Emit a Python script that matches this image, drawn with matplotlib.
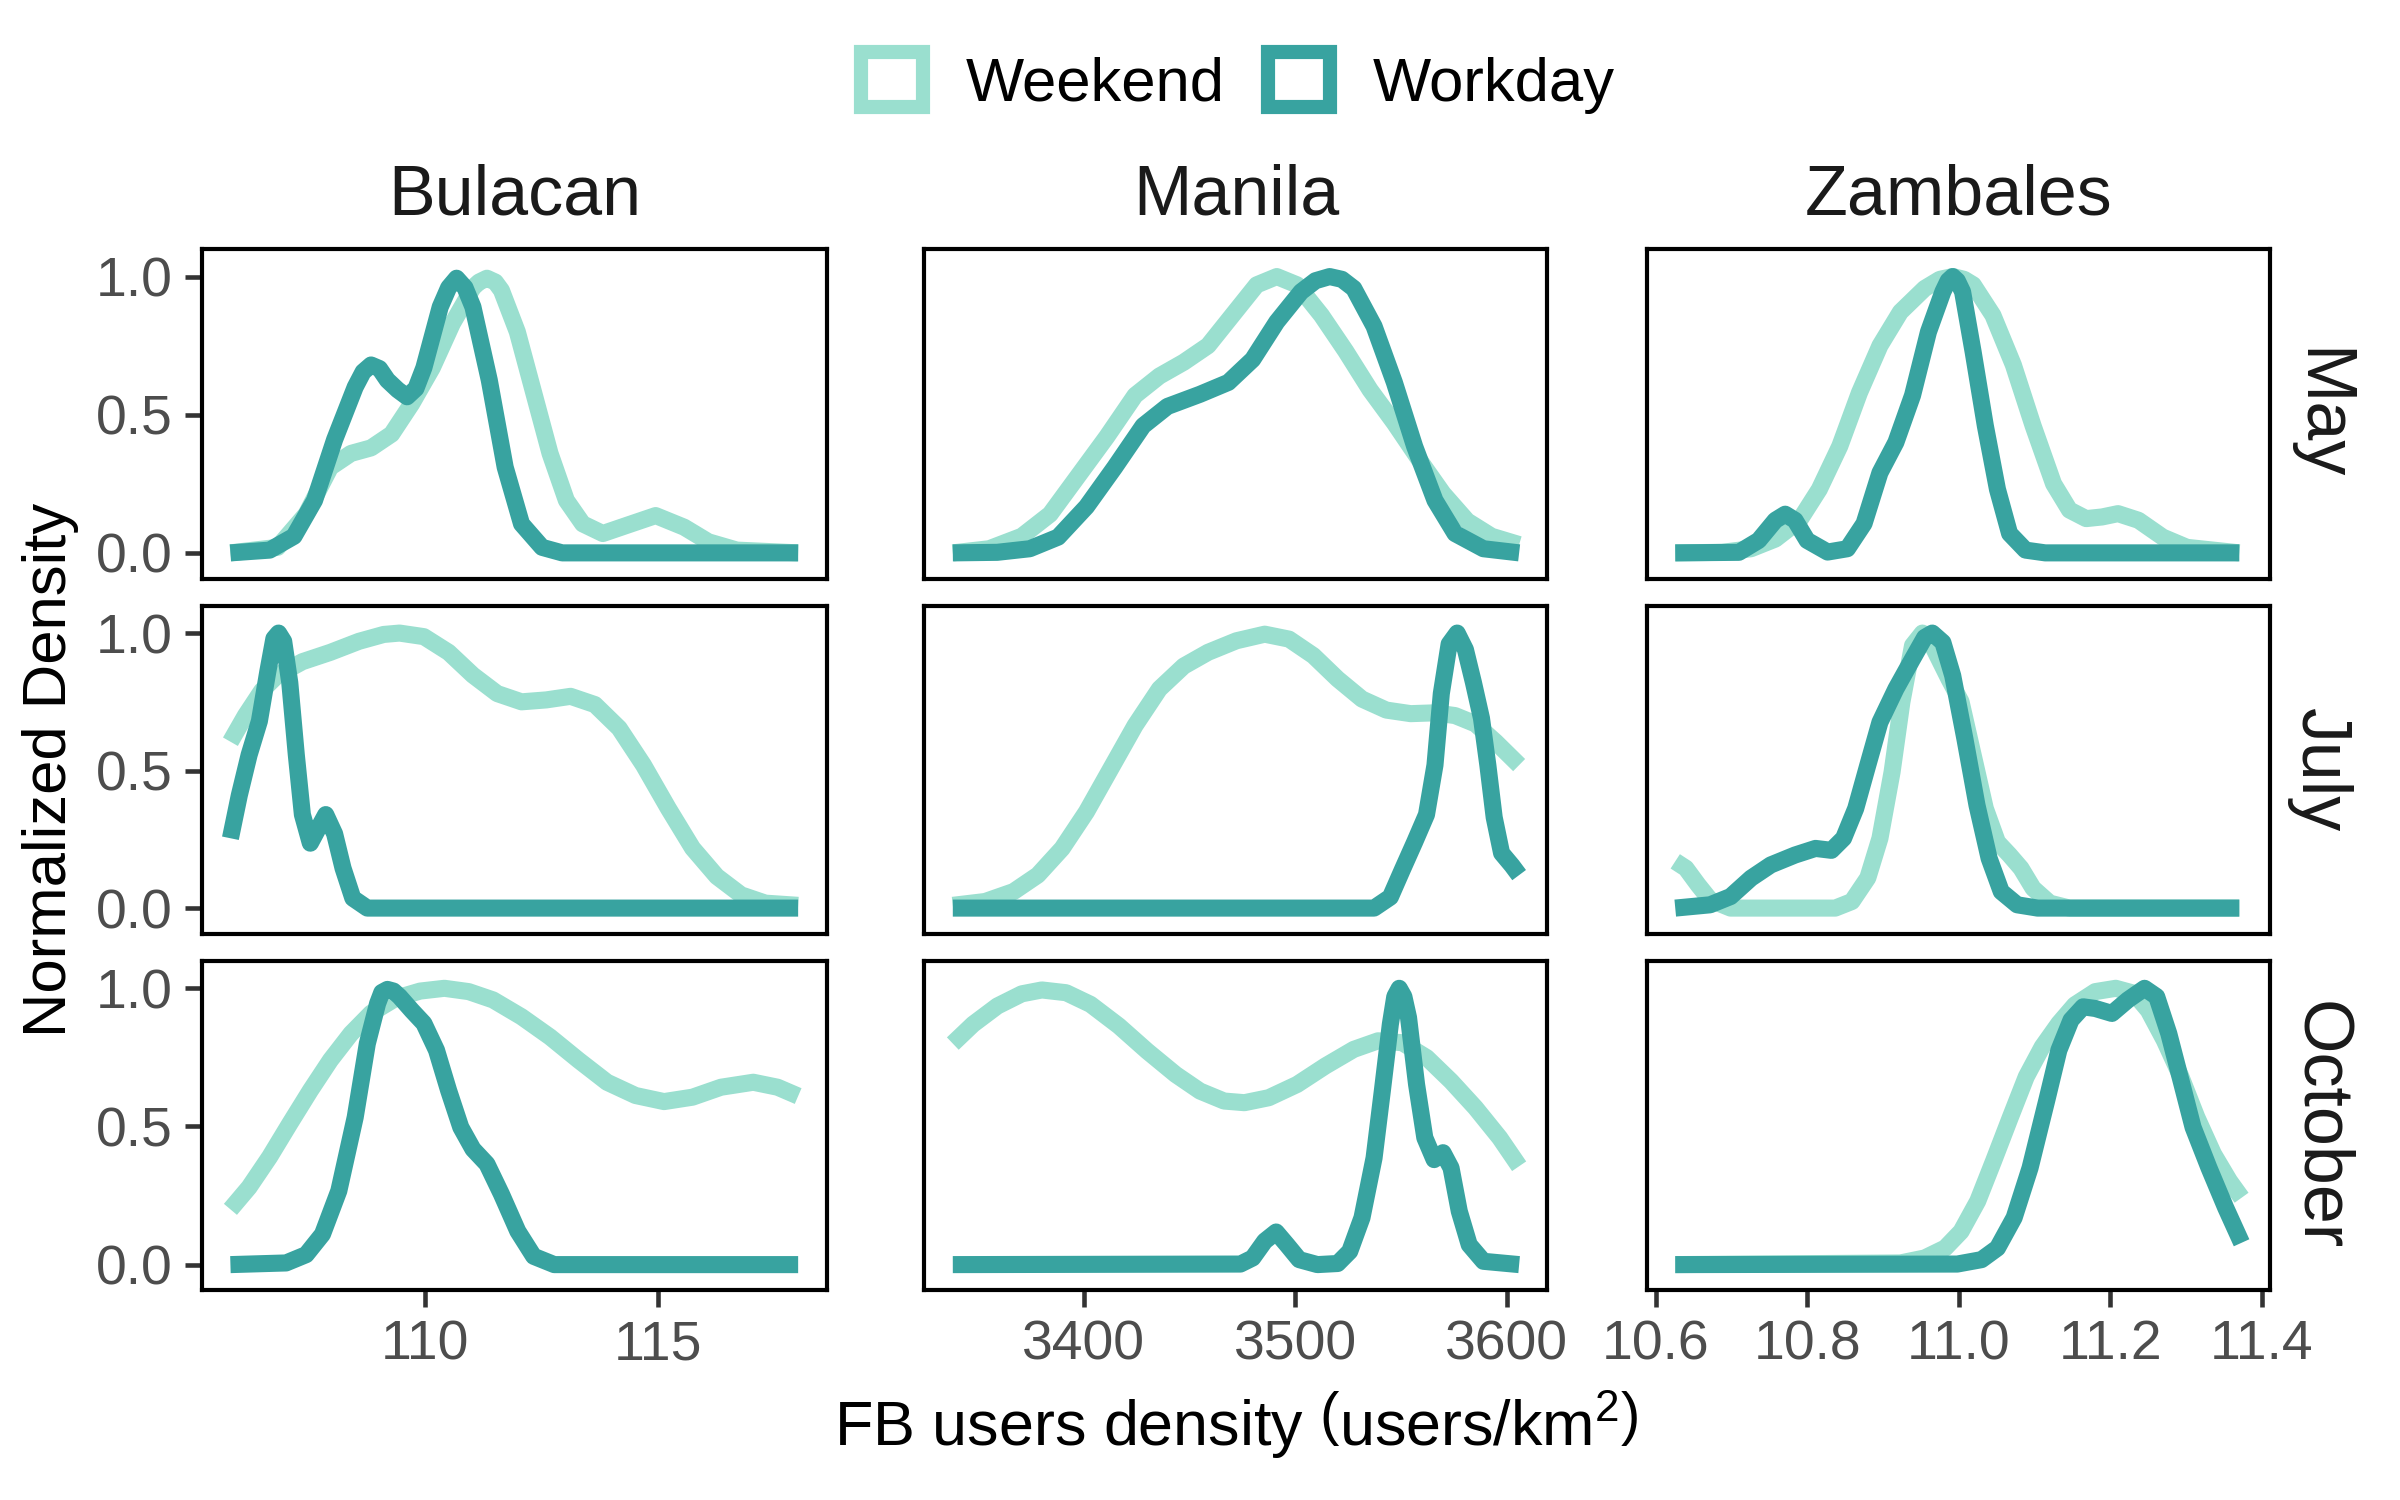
import matplotlib
matplotlib.use("Agg")
import matplotlib.pyplot as plt
from matplotlib.patches import Patch
import numpy as np

plt.rcParams['font.family'] = ['Liberation Sans', 'DejaVu Sans']
plt.rcParams['mathtext.fontset'] = 'custom'
plt.rcParams['mathtext.rm'] = 'Liberation Sans'
plt.rcParams['mathtext.it'] = 'Liberation Sans:italic'
plt.rcParams['mathtext.bf'] = 'Liberation Sans:bold'

# ---------------- data ----------------
regions = ["Bulacan", "Manila", "Zambales"]
months = ["May", "July", "October"]
series_names = ["Weekend", "Workday"]

bul_tick_values = [110, 115]
man_tick_values = [3400, 3500, 3600]
zam_tick_values = [10.6, 10.8, 11.0, 11.2, 11.4]
bul_tick_labels = ["110", "115"]
man_tick_labels = ["3400", "3500", "3600"]
zam_tick_labels = ["10.6", "10.8", "11.0", "11.2", "11.4"]
y_tick_values = [0.0, 0.5, 1.0]
y_tick_labels = ["0.0", "0.5", "1.0"]

# Bulacan - May
bul_may_we_x = [105.84, 106.85, 107.46, 107.98, 108.42, 108.85, 109.29, 109.72, 110.16, 110.59, 111.03, 111.16, 111.33, 111.51,
                111.64, 111.98, 112.33, 112.68, 113.03, 113.38, 113.81, 114.33, 114.94, 115.55, 116.07, 116.68, 117.99]
bul_may_we_y = [0.0, 0.02, 0.14, 0.31, 0.36, 0.38, 0.43, 0.54, 0.67, 0.83, 0.96, 0.98, 0.994, 0.98,
                0.95, 0.80, 0.58, 0.36, 0.19, 0.105, 0.07, 0.10, 0.135, 0.093, 0.04, 0.01, 0.0]
bul_may_wd_x = [105.84, 106.68, 107.20, 107.64, 108.07, 108.51, 108.68, 108.85, 109.03, 109.20, 109.42, 109.62, 109.81,
                109.98, 110.33, 110.51, 110.68, 110.86, 111.03, 111.38, 111.72, 112.07, 112.51, 112.94, 117.99]
bul_may_wd_y = [0.0, 0.01, 0.06, 0.19, 0.41, 0.60, 0.655, 0.68, 0.667, 0.625, 0.59, 0.565, 0.595,
                0.67, 0.89, 0.96, 0.994, 0.96, 0.89, 0.625, 0.31, 0.105, 0.02, 0.0, 0.0]

# Manila - May
man_may_we_x = [3338, 3355.2, 3370.6, 3384, 3397.4, 3410.8, 3424.2, 3435.7, 3447.2, 3458.7, 3470.2, 3481.7, 3491.2,
                3500.8, 3512.3, 3523.8, 3535.3, 3546.8, 3558.3, 3569.8, 3581.3, 3592.8, 3605.8]
man_may_we_y = [0.0, 0.015, 0.06, 0.14, 0.28, 0.42, 0.57, 0.64, 0.69, 0.75, 0.86, 0.97, 1.0,
                0.97, 0.86, 0.73, 0.59, 0.47, 0.34, 0.215, 0.115, 0.06, 0.03]
man_may_wd_x = [3338, 3359, 3374.4, 3387.8, 3401.2, 3414.6, 3428, 3439.5, 3454.9, 3468.3, 3479.8, 3491.2, 3502.7,
                3509.5, 3516.2, 3522, 3527.6, 3537.2, 3546.8, 3556.4, 3566, 3575.5, 3588.9, 3605.8]
man_may_wd_y = [0.0, 0.002, 0.015, 0.057, 0.167, 0.31, 0.46, 0.53, 0.574, 0.617, 0.70, 0.836, 0.945,
                0.985, 1.0, 0.99, 0.957, 0.82, 0.617, 0.385, 0.19, 0.07, 0.015, 0.0]

# Zambales - May
zam_may_we_x = [10.626, 10.688, 10.726, 10.758, 10.790, 10.816, 10.843, 10.869, 10.896, 10.923, 10.955, 10.975, 10.992,
                11.007, 11.019, 11.045, 11.072, 11.098, 11.125, 11.146, 11.168, 11.189, 11.210, 11.237, 11.269, 11.301, 11.370]
zam_may_we_y = [0.0, 0.002, 0.015, 0.05, 0.118, 0.23, 0.386, 0.58, 0.75, 0.872, 0.957, 0.99, 1.0,
                0.99, 0.97, 0.86, 0.68, 0.46, 0.25, 0.155, 0.124, 0.13, 0.142, 0.118, 0.057, 0.02, 0.0]
zam_may_wd_x = [10.626, 10.710, 10.736, 10.758, 10.771, 10.784, 10.800, 10.827, 10.853, 10.875, 10.896, 10.917,
                10.939, 10.960, 10.979, 10.986, 10.992, 10.998, 11.005, 11.019, 11.035, 11.051, 11.067, 11.088, 11.114, 11.370]
zam_may_wd_y = [0.0, 0.002, 0.045, 0.118, 0.14, 0.118, 0.045, 0.003, 0.015, 0.106, 0.29, 0.40,
                0.57, 0.80, 0.945, 0.985, 1.0, 0.985, 0.945, 0.726, 0.46, 0.23, 0.07, 0.01, 0.0, 0.0]

# Bulacan - July
bul_jul_we_x = [105.84, 106.16, 106.51, 106.85, 107.38, 107.98, 108.59, 109.12, 109.46, 109.98, 110.51, 111.03,
                111.55, 112.07, 112.60, 113.12, 113.64, 114.16, 114.68, 115.21, 115.73, 116.25, 116.77, 117.29, 117.99]
bul_jul_we_y = [0.605, 0.70, 0.79, 0.847, 0.896, 0.93, 0.97, 0.995, 1.0, 0.987, 0.93, 0.847,
                0.78, 0.75, 0.757, 0.77, 0.74, 0.654, 0.52, 0.363, 0.218, 0.115, 0.048, 0.018, 0.01]
bul_jul_wd_x = [105.84, 106.03, 106.24, 106.46, 106.64, 106.77, 106.87, 106.98, 107.11, 107.25, 107.38, 107.55,
                107.72, 107.88, 108.07, 108.25, 108.46, 108.77, 117.99]
bul_jul_wd_y = [0.254, 0.41, 0.557, 0.68, 0.86, 0.98, 1.0, 0.97, 0.82, 0.557, 0.34, 0.236,
                0.29, 0.34, 0.27, 0.145, 0.036, 0.0, 0.0]

# Manila - July
man_jul_we_x = [3338, 3353.3, 3366.7, 3378.2, 3389.7, 3401.2, 3412.7, 3424.2, 3435.7, 3447.2, 3458.7, 3472.1,
                3485.5, 3497, 3508.5, 3520, 3531.5, 3543, 3554.5, 3566, 3575.5, 3585.1, 3594.7, 3605.8]
man_jul_we_y = [0.01, 0.024, 0.06, 0.12, 0.217, 0.35, 0.507, 0.664, 0.797, 0.88, 0.93, 0.972,
                0.996, 0.978, 0.918, 0.833, 0.76, 0.72, 0.707, 0.71, 0.70, 0.67, 0.604, 0.52]
man_jul_wd_x = [3338, 3537.2, 3544.9, 3550.6, 3556.4, 3562, 3566, 3569, 3572.7, 3576.5, 3580.4, 3584.2,
                3588, 3591, 3594, 3597.5, 3602.4, 3605.8]
man_jul_wd_y = [0.0, 0.0, 0.04, 0.14, 0.24, 0.34, 0.52, 0.78, 0.96, 1.0, 0.94, 0.82,
                0.69, 0.52, 0.33, 0.2, 0.155, 0.12]

# Zambales - July
zam_jul_we_x = [10.626, 10.640, 10.656, 10.672, 10.699, 10.837, 10.859, 10.880, 10.896, 10.912, 10.925, 10.939,
                10.952, 10.965, 10.987, 11.003, 11.019, 11.035, 11.051, 11.067, 11.082, 11.098, 11.120, 11.146, 11.370]
zam_jul_we_y = [0.17, 0.145, 0.085, 0.03, 0.0, 0.0, 0.024, 0.11, 0.254, 0.495, 0.75, 0.955,
                1.0, 0.955, 0.833, 0.75, 0.556, 0.362, 0.24, 0.193, 0.145, 0.072, 0.018, 0.0, 0.0]
zam_jul_wd_x = [10.626, 10.672, 10.699, 10.726, 10.752, 10.784, 10.811, 10.832, 10.848, 10.864, 10.880, 10.896,
                10.917, 10.939, 10.955, 10.965, 10.979, 10.992, 11.008, 11.024, 11.040, 11.056, 11.077, 11.104, 11.370]
zam_jul_wd_y = [0.0, 0.012, 0.042, 0.109, 0.157, 0.193, 0.217, 0.21, 0.254, 0.362, 0.52, 0.676,
                0.797, 0.906, 0.984, 1.0, 0.966, 0.845, 0.616, 0.374, 0.181, 0.06, 0.012, 0.0, 0.0]

# Bulacan - October
bul_oct_we_x = [105.84, 106.24, 106.68, 107.11, 107.55, 107.98, 108.42, 108.85, 109.38, 109.90, 110.42, 110.94,
                111.46, 112.07, 112.68, 113.29, 113.90, 114.51, 115.12, 115.73, 116.34, 117.03, 117.55, 117.99]
bul_oct_we_y = [0.2, 0.28, 0.39, 0.51, 0.63, 0.74, 0.836, 0.91, 0.964, 0.99, 1.0, 0.988,
                0.958, 0.897, 0.824, 0.74, 0.66, 0.612, 0.59, 0.606, 0.642, 0.66, 0.642, 0.61]
bul_oct_wd_x = [105.84, 107.03, 107.46, 107.81, 108.16, 108.51, 108.77, 108.99, 109.08, 109.20, 109.33, 109.46, 109.72,
                109.98, 110.25, 110.51, 110.77, 111.03, 111.33, 111.64, 111.99, 112.33, 112.77, 117.99]
bul_oct_wd_y = [0.0, 0.006, 0.036, 0.11, 0.267, 0.533, 0.80, 0.945, 0.985, 0.996, 0.99, 0.97, 0.92,
                0.873, 0.776, 0.63, 0.497, 0.418, 0.364, 0.255, 0.121, 0.03, 0.0, 0.0]

# Manila - October
man_oct_we_x = [3338, 3347.6, 3359.1, 3370.6, 3380.1, 3391.6, 3403.1, 3416.5, 3429.9, 3443.4, 3454.9, 3466.3,
                3475.9, 3487.4, 3500.8, 3514.2, 3527.6, 3539.1, 3550.6, 3562.1, 3573.6, 3585.1, 3596.6, 3605.8]
man_oct_we_y = [0.80, 0.87, 0.936, 0.98, 0.994, 0.984, 0.942, 0.864, 0.773, 0.688, 0.628, 0.592,
                0.586, 0.604, 0.652, 0.719, 0.779, 0.81, 0.803, 0.749, 0.664, 0.568, 0.459, 0.356]
man_oct_wd_x = [3338, 3474, 3479.8, 3485.5, 3490.9, 3496, 3501.8, 3510.4, 3520, 3525.7, 3531.5, 3537.2, 3541.1,
                3544.9, 3547, 3549.1, 3551.3, 3553.5, 3557.3, 3561.2, 3565.6, 3569.8, 3573.6, 3577.5, 3582.2,
                3588.9, 3605.8]
man_oct_wd_y = [0.0, 0.002, 0.024, 0.085, 0.118, 0.072, 0.018, 0.0, 0.004, 0.048, 0.17, 0.386, 0.628,
                0.87, 0.97, 1.0, 0.97, 0.894, 0.652, 0.459, 0.38, 0.405, 0.35, 0.193, 0.072,
                0.012, 0.0]

# Zambales - October
zam_oct_we_x = [10.626, 10.923, 10.955, 10.982, 11.003, 11.025, 11.046, 11.068, 11.089, 11.110, 11.132, 11.153,
                11.180, 11.207, 11.231, 11.250, 11.271, 11.293, 11.314, 11.336, 11.357, 11.373]
zam_oct_we_y = [0.0, 0.006, 0.024, 0.06, 0.12, 0.23, 0.376, 0.533, 0.68, 0.788, 0.873, 0.94,
                0.988, 1.0, 0.982, 0.92, 0.812, 0.68, 0.533, 0.40, 0.303, 0.242]
zam_oct_wd_x = [10.626, 10.998, 11.030, 11.051, 11.073, 11.094, 11.116, 11.132, 11.148, 11.164, 11.180, 11.202,
                11.223, 11.245, 11.261, 11.277, 11.293, 11.309, 11.330, 11.352, 11.373]
zam_oct_wd_y = [0.0, 0.002, 0.018, 0.06, 0.17, 0.35, 0.594, 0.776, 0.885, 0.933, 0.927, 0.909,
                0.958, 1.0, 0.97, 0.836, 0.667, 0.497, 0.35, 0.206, 0.079]

# ---------------- style ----------------
col_weekend = "#9ADFCF"
col_workday = "#38A3A0"
colors = [col_weekend, col_workday]

panels = {
    (0, 0): ((bul_may_we_x, bul_may_we_y), (bul_may_wd_x, bul_may_wd_y)),
    (0, 1): ((man_may_we_x, man_may_we_y), (man_may_wd_x, man_may_wd_y)),
    (0, 2): ((zam_may_we_x, zam_may_we_y), (zam_may_wd_x, zam_may_wd_y)),
    (1, 0): ((bul_jul_we_x, bul_jul_we_y), (bul_jul_wd_x, bul_jul_wd_y)),
    (1, 1): ((man_jul_we_x, man_jul_we_y), (man_jul_wd_x, man_jul_wd_y)),
    (1, 2): ((zam_jul_we_x, zam_jul_we_y), (zam_jul_wd_x, zam_jul_wd_y)),
    (2, 0): ((bul_oct_we_x, bul_oct_we_y), (bul_oct_wd_x, bul_oct_wd_y)),
    (2, 1): ((man_oct_we_x, man_oct_we_y), (man_oct_wd_x, man_oct_wd_y)),
    (2, 2): ((zam_oct_we_x, zam_oct_we_y), (zam_oct_wd_x, zam_oct_wd_y)),
}
xticks = [(bul_tick_values, bul_tick_labels), (man_tick_values, man_tick_labels), (zam_tick_values, zam_tick_labels)]

W, H = 1568.0, 980.0
cols_px = [(132, 540), (604, 1011), (1076, 1483)]
rows_px = [(163, 378), (396, 610), (628, 843)]

fig = plt.figure(figsize=(8, 5), dpi=300)
fig.patch.set_facecolor("white")

LW = 4.1
tick_fs = 13.3
strip_fs = 16.8
title_fs = 14.8

for r in range(3):
    for c in range(3):
        x0, x1 = cols_px[c]
        y0, y1 = rows_px[r]
        ax = fig.add_axes([x0 / W, 1 - y1 / H, (x1 - x0) / W, (y1 - y0) / H])
        for s in range(2):
            xs, ys = panels[(r, c)][s]
            ax.plot(xs, ys, color=colors[s], lw=LW, solid_capstyle="butt", solid_joinstyle="round", zorder=2 + s)
        # shared x range per column: data range + 5% expansion
        allx = []
        for rr in range(3):
            for s in range(2):
                allx += list(panels[(rr, c)][s][0])
        lo, hi = min(allx), max(allx)
        pad = (hi - lo) * 0.05
        ax.set_xlim(lo - pad, hi + pad)
        ax.set_ylim(-0.093, 1.098)
        for sp in ax.spines.values():
            sp.set_color("black")
            sp.set_linewidth(1.0)
        ax.tick_params(axis="both", colors="#333333", length=4.0, width=1.1,
                       labelsize=tick_fs, labelcolor="#4D4D4D", pad=3)
        if c == 0:
            ax.set_yticks(y_tick_values)
            ax.set_yticklabels(y_tick_labels)
        else:
            ax.set_yticks([])
        if r == 2:
            ax.set_xticks(xticks[c][0])
            ax.set_xticklabels(xticks[c][1])
        else:
            ax.set_xticks([])
        if r == 0:
            ax.text(0.5, 1.16, regions[c], transform=ax.transAxes, ha="center", va="center",
                    fontsize=strip_fs, color="#1A1A1A")
        if c == 2:
            ax.text(1.079, 0.5, months[r], transform=ax.transAxes, ha="center", va="center",
                    rotation=-90, fontsize=strip_fs, color="#1A1A1A")

fig.text(33 / W, 1 - 503 / H, "Normalized Density", rotation=90, ha="center", va="center",
         fontsize=title_fs, color="black")
fig.text(808 / W, 1 - 931 / H, r"FB users density $\left(\mathrm{users/km^2}\right)$", ha="center", va="center",
         fontsize=title_fs + 0.3, color="black")

handles = [Patch(facecolor="white", edgecolor=colors[i], linewidth=3.4, joinstyle="round", label=series_names[i])
           for i in range(2)]
fig.legend(handles=handles, loc="center", bbox_to_anchor=(809 / W, 1 - 54 / H), ncol=2, frameon=False,
           fontsize=title_fs, handlelength=1.0, handleheight=1.0, handletextpad=0.7, columnspacing=0.7)

fig.savefig("out.png", dpi=300, facecolor="white")
